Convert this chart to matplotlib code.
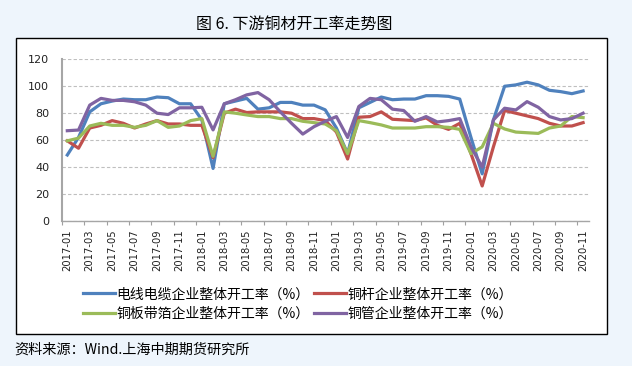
import matplotlib
matplotlib.use("Agg")
import matplotlib.pyplot as plt
from matplotlib.patches import Rectangle
import numpy as np

plt.rcParams['font.family'] = ['Noto Sans CJK SC', 'DejaVu Sans']

# ---- data ----
months = [f"{y}-{m:02d}" for y in range(2017, 2021) for m in range(1, 13)][:47]

wire_cable = [49, 62, 81, 87, 89, 90.5, 90, 90, 92, 91.5, 87, 87, 75, 39, 87, 89,
              91, 83, 84, 88, 88, 86, 86, 82.5, 69, 50, 84, 88, 92, 90, 90.5, 90.5,
              93, 93, 92.5, 90.5, 62, 35, 75, 100, 101, 103, 101, 97, 96, 94.5, 96.5]
rod = [59.5, 54, 69, 71, 74.5, 72.5, 69, 72, 74.5, 72, 72, 71, 71, 47, 80, 83,
       80.5, 81, 81, 81, 80, 76, 76, 74.5, 66, 46, 77, 77.5, 81, 75.5, 75, 74.5,
       76.5, 71, 68, 72.5, 50, 26, 55, 82, 80, 78, 76, 72.5, 70.5, 70.5, 73]
plate_strip = [59.5, 61.5, 70.5, 72.5, 71, 71, 69.5, 71, 74.5, 69.5, 70.5, 74.5, 76, 48, 81, 80,
               78.7, 77.5, 77.5, 76, 76, 74, 73, 72, 67, 50, 74.5, 73, 71.3, 69, 69, 69,
               70, 70, 69.5, 68, 50, 55, 72.5, 68.3, 66, 65.5, 65, 69, 70.5, 77.5, 76.7]
tube = [67, 67.5, 86, 91, 89.5, 89.5, 88.5, 86, 80, 79, 84, 84, 84.4, 67.6, 87, 90,
        93.6, 95.3, 90, 81, 72.5, 64.5, 70, 74, 77.5, 62, 85, 91, 90, 83, 82, 74,
        77.5, 73.5, 74.5, 76, 55, 40, 75, 83.7, 82.4, 88.6, 84.4, 77.5, 75, 76, 80]

series_names = ["电线电缆企业整体开工率（%）", "铜杆企业整体开工率（%）",
                "铜板带箔企业整体开工率（%）", "铜管企业整体开工率（%）"]
colors = ["#4F81BD", "#C0504D", "#9BBB59", "#8064A2"]

title = "图 6. 下游铜材开工率走势图"
source = "资料来源：Wind.上海中期期货研究所"
yticks = [0, 20, 40, 60, 80, 100, 120]

# ---- figure ----
W, H = 632, 366
fig = plt.figure(figsize=(W / 100, H / 100), dpi=100)
fig.patch.set_facecolor("#EEF5FC")

# white chart frame
fl, fr, ft, fb = 16, 607, 38, 334
fig.patches.append(Rectangle((fl / W, 1 - fb / H), (fr - fl) / W, (fb - ft) / H,
                             transform=fig.transFigure, facecolor="white",
                             edgecolor="black", linewidth=1.0, zorder=-5))

al, ar, at, ab = 61.7, 588.7, 59.3, 221
ax = fig.add_axes([al / W, 1 - ab / H, (ar - al) / W, (ab - at) / H])
ax.set_zorder(2)
ax.set_facecolor("none")

x = np.arange(len(months))
data = [wire_cable, rod, plate_strip, tube]
handles = []
for vals, c, name in zip(data, colors, series_names):
    h, = ax.plot(x, vals, color=c, lw=2.3, label=name, solid_joinstyle="round")
    handles.append(h)

ax.set_xlim(-0.5, len(months) - 0.5)
ax.set_ylim(0, 120)
ax.set_yticks(yticks)
ax.set_yticklabels([str(v) for v in yticks], fontsize=8, family="DejaVu Sans")
ax.tick_params(axis="y", length=0, pad=9, colors="#222222")

ax.set_xticks(np.arange(-0.5, len(months), 2))
ax.set_xticklabels([])
ax.set_xticks(x[::2], minor=True)
ax.set_xticklabels(months[::2], minor=True, rotation=90, fontsize=7.2,
                   family="DejaVu Sans")
ax.tick_params(axis="x", which="major", length=3, width=0.8, color="#A0A0A0", direction="out")
ax.tick_params(axis="x", which="minor", length=0, pad=6, colors="#222222")

ax.grid(axis="y", linestyle=(0, (3, 2)), color="#BFBFBF", lw=0.8)
ax.set_axisbelow(True)
for s in ["top", "right"]:
    ax.spines[s].set_visible(False)
ax.spines["left"].set_color("#A6A6A6")
ax.spines["left"].set_linewidth(1.5)
ax.spines["bottom"].set_color("#A6A6A6")
ax.spines["bottom"].set_linewidth(1.0)

fig.text(294 / W, 1 - 24 / H, title, ha="center", va="center", fontsize=11.5)

order = [0, 2, 1, 3]
fig.legend([handles[i] for i in order], [series_names[i] for i in order],
           loc="center", bbox_to_anchor=(298 / W, 1 - 304 / H), ncol=2,
           frameon=False, fontsize=10, handlelength=2.3, handletextpad=0.15,
           columnspacing=0.3, labelspacing=0.4)

fig.text(14 / W, 1 - 350 / H, source, ha="left", va="center", fontsize=10.2)

fig.savefig("out.png", dpi=100, facecolor=fig.get_facecolor())
